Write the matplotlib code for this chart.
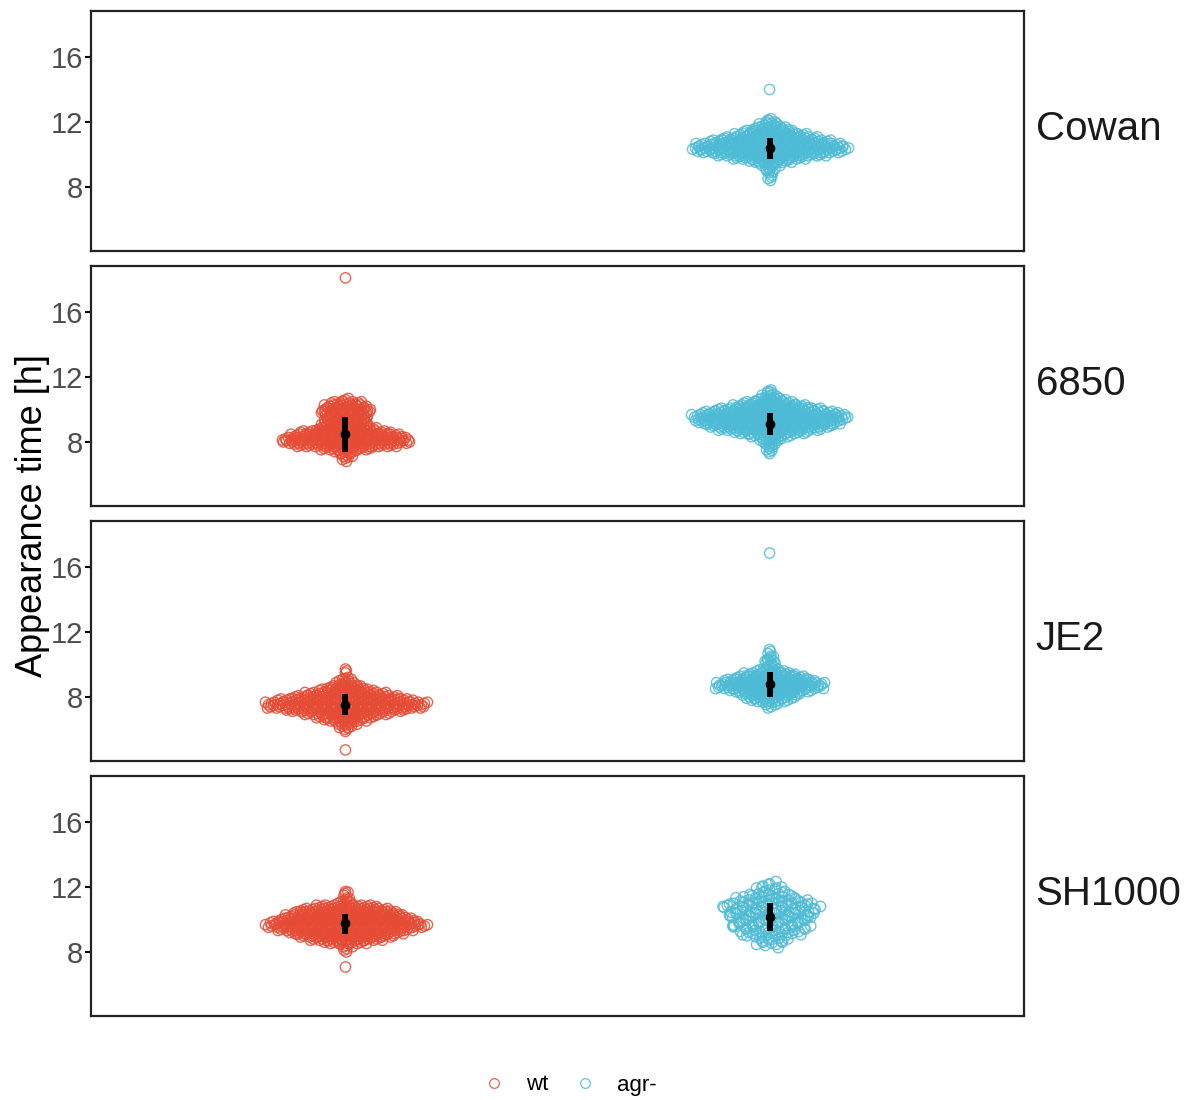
import numpy as np
import matplotlib
matplotlib.use('Agg')
import matplotlib.pyplot as plt
from matplotlib.lines import Line2D

plt.rcParams['font.family'] = ['Liberation Sans', 'DejaVu Sans']

#
# Data: number of cells per 0.2 h bin, from the top bin downward
#
strains = ['Cowan', '6850', 'JE2', 'SH1000']
genotypes = ['wt', 'agr-']
colors = ['#E64B35', '#4DBBD5']
bin_step = 0.2

cowan_agr_top = 12.2
cowan_agr_counts = [2, 4, 8, 13, 18, 25, 33, 41, 50, 53, 49, 38, 25, 15, 8, 4, 3, 2, 2, 1]
cowan_agr_out = [14.0]

s6850_wt_top = 10.6
s6850_wt_counts = [3, 11, 15, 17, 17, 15, 15, 15, 17, 21, 31, 38, 43, 43, 35, 18, 8, 5, 3, 1]
s6850_wt_out = [18.1]

s6850_agr_top = 11.2
s6850_agr_counts = [2, 3, 6, 11, 18, 26, 37, 46, 53, 51, 48, 43, 35, 25, 15, 8, 5, 4, 3, 2, 1]
s6850_agr_out = []

je2_wt_top = 9.8
je2_wt_counts = [1, 1, 1, 2, 5, 8, 13, 19, 28, 37, 46, 55, 53, 41, 30, 21, 15, 8, 5, 2, 1]
je2_wt_out = [4.74]

je2_agr_top = 11.0
je2_agr_counts = [1, 1, 2, 3, 4, 4, 5, 10, 18, 25, 31, 37, 37, 28, 21, 17, 13, 6, 2]
je2_agr_out = [16.86]

sh_wt_top = 11.8
sh_wt_counts = [1, 2, 2, 3, 6, 21, 31, 36, 41, 46, 51, 55, 46, 39, 33, 25, 15, 5, 2, 1]
sh_wt_out = [7.08]

sh_agr_top = 12.2
sh_agr_counts = [3, 4, 5, 7, 9, 12, 14, 16, 15, 14, 13, 13, 12, 13, 12, 10, 8, 6, 5, 3]
sh_agr_out = []

# median and interquartile range (wt, agr-) per strain
med_wt = [np.nan, 8.49, 7.51, 9.78]
q1_wt = [np.nan, 7.38, 6.89, 9.10]
q3_wt = [np.nan, 9.54, 8.18, 10.34]
med_agr = [10.40, 9.10, 8.80, 10.15]
q1_agr = [9.72, 8.43, 8.00, 9.29]
q3_agr = [11.00, 9.78, 9.54, 11.00]

groups = {
    ('Cowan', 'agr-'): (cowan_agr_top, cowan_agr_counts, cowan_agr_out, 3.0),
    ('6850', 'wt'): (s6850_wt_top, s6850_wt_counts, s6850_wt_out, 3.0),
    ('6850', 'agr-'): (s6850_agr_top, s6850_agr_counts, s6850_agr_out, 3.0),
    ('JE2', 'wt'): (je2_wt_top, je2_wt_counts, je2_wt_out, 3.0),
    ('JE2', 'agr-'): (je2_agr_top, je2_agr_counts, je2_agr_out, 3.0),
    ('SH1000', 'wt'): (sh_wt_top, sh_wt_counts, sh_wt_out, 3.0),
    ('SH1000', 'agr-'): (sh_agr_top, sh_agr_counts, sh_agr_out, 6.5),
}

#
# Figure
#
W, H = 1194, 1100
fig = plt.figure(figsize=(W / 100, H / 100), dpi=100)
left, right = 91, 1024
tops = [11, 266, 521, 776]
ph = 240
px_per_unit = (right - left) / 2.2


def swarm_xy(xc, top, counts, out, spacing):
    # beeswarm-like layout: one row per bin, rows staggered a little
    unit = spacing / px_per_unit
    wob = 0.08 if spacing < 5 else 0.14
    xs, ys = [], []
    for i, n in enumerate(counts):
        y = top - i * bin_step
        offs = (np.arange(n) - (n - 1) / 2) * unit
        if i % 2 == 1:
            offs = offs + unit / 3
        dy = (((np.arange(n) + i) % 3) - 1) * wob
        xs.extend(xc + offs)
        ys.extend(y + dy)
    for o in out:
        xs.append(xc)
        ys.append(o)
    return np.array(xs), np.array(ys)


for k, strain in enumerate(strains):
    ax = fig.add_axes([left / W, 1 - (tops[k] + ph) / H, (right - left) / W, ph / H])
    for g, geno in enumerate(genotypes):
        key = (strain, geno)
        if key not in groups:
            continue
        top, counts, out, sp = groups[key]
        xs, ys = swarm_xy(g + 1, top, counts, out, sp)
        ax.scatter(xs, ys, s=55, facecolors='none', edgecolors=colors[g],
                   linewidths=1.0, alpha=0.85, zorder=2)
    # median + IQR
    for g, (med, q1, q3) in enumerate([(med_wt, q1_wt, q3_wt), (med_agr, q1_agr, q3_agr)]):
        if np.isnan(med[k]):
            continue
        ax.vlines(g + 1, q1[k], q3[k], color='black', linewidth=4.3, zorder=3)
        ax.plot([g + 1], [med[k]], 'o', color='black', markersize=6, zorder=4)

    ax.set_xlim(0.4, 2.6)
    ax.set_ylim(4.06, 18.83)
    ax.set_yticks([8, 12, 16])
    ax.set_xticks([])
    ax.tick_params(axis='y', labelsize=21, labelcolor='#4D4D4D', length=4,
                   width=1.5, color='black', pad=2)
    for sp_ in ax.spines.values():
        sp_.set_linewidth(1.6)
        sp_.set_color('#222222')
    ax.text(1.0125, 0.51, strain, transform=ax.transAxes, fontsize=29,
            va='center', ha='left', color='#1A1A1A')

fig.text(0.027, 1 - 515 / H, 'Appearance time [h]', rotation=90, fontsize=26,
         va='center', ha='center', color='black')

handles = [Line2D([], [], marker='o', linestyle='none', markerfacecolor='none',
                  markeredgecolor=c, markersize=7, markeredgewidth=0.9, alpha=0.85)
           for c in colors]
fig.legend(handles, genotypes, loc='center', bbox_to_anchor=(0.475, 1 - 1085 / H),
           ncol=2, frameon=False, fontsize=16, handlelength=1.5,
           handletextpad=0.7, columnspacing=0.9)

fig.savefig('out.png', dpi=100)
